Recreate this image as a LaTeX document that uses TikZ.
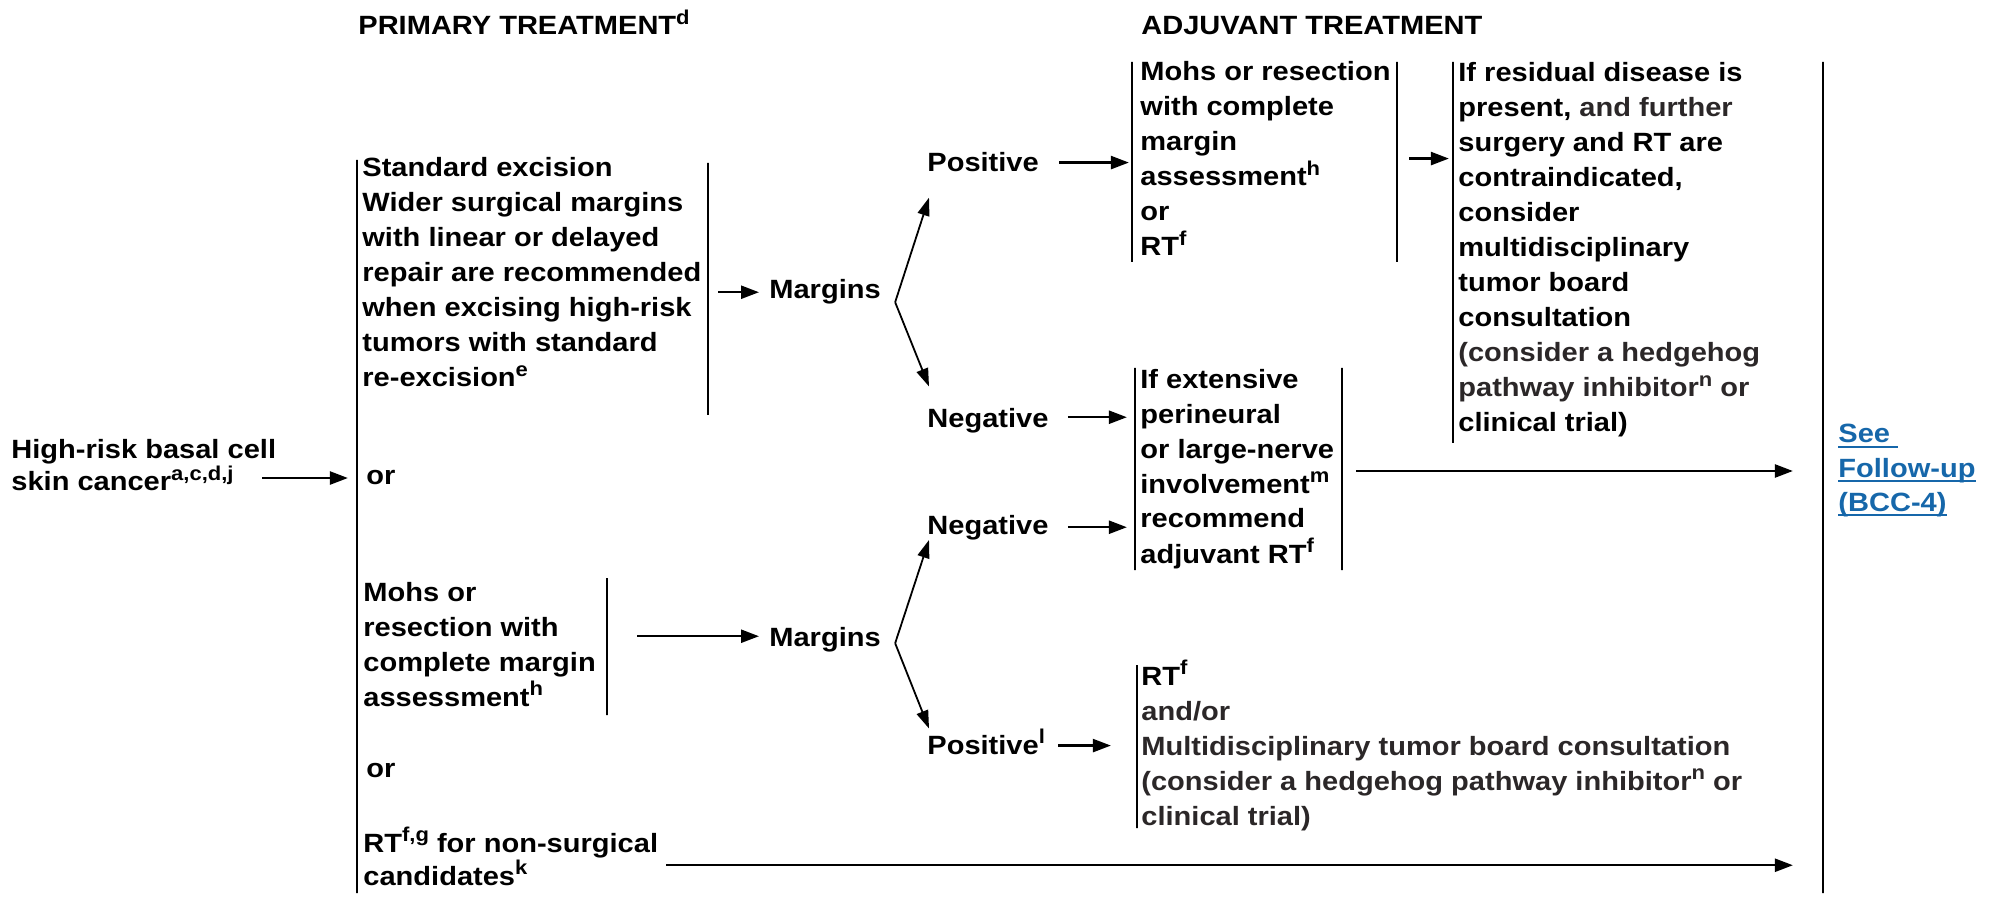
\documentclass[tikz,border=0pt]{standalone}
\usepackage{fontspec}
\setmainfont{Liberation Sans}[FakeStretch=1.1]
\usetikzlibrary{arrows.meta, positioning}
\definecolor{ink}{HTML}{2B2728}
\definecolor{linkblue}{HTML}{1667AA}
\newcommand{\supr}[1]{\raisebox{5.3pt}{\fontsize{10pt}{10pt}\selectfont #1}}
\newcommand{\lnk}[1]{\setbox0\hbox{#1}\rlap{\rule[-2.4pt]{\wd0}{1pt}}\box0}
\tikzstyle{txt} = [anchor=base west, inner sep=0pt, align=left, font=\fontsize{13.2pt}{17.5pt}\selectfont\bfseries]
\tikzstyle{vbar} = [draw, line width=1.1pt, inner sep=0pt, minimum width=0pt]
\tikzstyle{arrow} = [line width=1.2pt, -{Triangle[length=9pt,width=6.5pt]}]
\tikzstyle{fork} = [line width=0.9pt, -{Triangle[length=9pt,width=6pt]}]

\begin{document}
\begin{tikzpicture}[x=0.5pt, y=-0.5pt]
\useasboundingbox (0,0) rectangle (2001,897);

% Headings (multi-line nodes sit on the baseline of their last line)
\node[txt] (hdprim) at (358,35) {PRIMARY TREATMENT\supr{d}};
\node[txt] (hdadj) at (1141,35) {ADJUVANT TREATMENT};

% Primary treatment
\node[txt, font=\fontsize{13.2pt}{13pt}\selectfont\bfseries] (hr) at (11,491) {High-risk basal cell\\skin cancer\supr{a,c,d,j}};
\node[vbar, minimum height=366.5pt] (pbar) at (357,526.5) {};
\node[txt] (std) at (362,387) {Standard excision\\Wider surgical margins\\with linear or delayed\\repair are recommended\\when excising high-risk\\tumors with standard\\re-excision\supr{e}};
\node[vbar, minimum height=126pt] (stdbar) at (708,289) {};
\node[txt] (or1) at (366,485) {or};
\node[txt] (mohsp) at (363,706) {Mohs or\\resection with\\complete margin\\assessment\supr{h}};
\node[vbar, minimum height=68.5pt] (mohspbar) at (607,646.5) {};
\node[txt] (or2) at (366,777) {or};
\node[txt, font=\fontsize{13.2pt}{14pt}\selectfont\bfseries] (rtns) at (363,885) {RT\supr{f,g} for non-surgical\\candidates\supr{k}};

% Margins
\node[txt] (marg1) at (769,299) {Margins};
\node[txt] (pos1) at (927,172) {Positive};
\node[txt] (neg1) at (927,428) {Negative};
\node[txt] (marg2) at (769,646) {Margins};
\node[txt] (neg2) at (927,534) {Negative};
\node[txt] (pos2) at (927,754) {Positive\supr{l}};

% Adjuvant treatment
\node[txt] (mohsa) at (1140,256) {Mohs or resection\\with complete\\margin\\assessment\supr{h}\\or\\RT\supr{f}};
\node[vbar, minimum height=100pt] (mohsal) at (1132,162) {};
\node[vbar, minimum height=100pt] (mohsar) at (1397,162) {};
\node[txt] (resid) at (1458,432) {If residual disease is\\present, {\color{ink}and further}\\surgery and RT are\\contraindicated,\\consider\\multidisciplinary\\tumor board\\consultation\\{\color{ink}(consider a hedgehog}\\{\color{ink}pathway inhibitor\supr{n} or}\\clinical trial)};
\node[vbar, minimum height=190.5pt] (residbar) at (1453,252.5) {};
\node[txt] (ext) at (1140,563) {If extensive\\perineural\\or large-nerve\\involvement\supr{m}\\recommend\\adjuvant RT\supr{f}};
\node[vbar, minimum height=101pt] (extl) at (1135,469) {};
\node[vbar, minimum height=101pt] (extr) at (1342,469) {};
\node[txt] (rtb) at (1141,825) {RT\supr{f}\\{\color{ink}and/or}\\{\color{ink}Multidisciplinary tumor board consultation}\\{\color{ink}(consider a hedgehog pathway inhibitor\supr{n} or}\\{\color{ink}clinical trial)}};
\node[vbar, minimum height=81.5pt] (rtbbar) at (1137,746.5) {};

% Follow-up
\node[vbar, minimum height=415.5pt] (bigbar) at (1823,477.5) {};
\node[txt, font=\fontsize{13.2pt}{17pt}\selectfont\bfseries, text=linkblue] (seefu) at (1838,511) {\lnk{See\ }\\\lnk{Follow-up}\\\lnk{(BCC-4)}};

% Arrows
\draw[arrow] ([xshift=-7pt]hr.east |- or1) -- ([xshift=-4pt]pbar.west |- or1);
\draw[arrow] ([xshift=4.5pt]stdbar.east |- marg1) -- ([xshift=-5pt]marg1.west);
\coordinate (fork1) at ([xshift=7pt,yshift=-5pt]marg1.east);
\draw[fork] (fork1) -- ([xshift=1pt,yshift=-12.5pt]pos1.south west);
\draw[fork] (fork1) -- ([xshift=1pt,yshift=11pt]neg1.north west);
\draw[arrow] ([xshift=10pt]pos1.east) -- ([xshift=-1pt]pos1.east -| mohsal.west);
\draw[arrow] ([xshift=5.5pt,yshift=2pt]mohsar.east |- pos1) -- ([xshift=-1.5pt,yshift=2pt]pos1 -| residbar.west);
\draw[arrow] ([xshift=9.5pt,yshift=2pt]neg1.east) -- ([xshift=-3.5pt,yshift=2pt]neg1.east -| extl.west);
\draw[arrow] ([xshift=9.5pt]neg2.east) -- ([xshift=-3.5pt]neg2.east -| extl.west);
\draw[arrow] ([xshift=6.5pt,yshift=-1pt]extr.east) -- ([xshift=-14.5pt,yshift=-1pt]extr.east -| bigbar.west);
\draw[arrow] ([xshift=14.5pt,yshift=1.5pt]mohspbar.east |- marg2) -- ([xshift=-5pt,yshift=1.5pt]marg2.west);
\coordinate (fork2) at ([xshift=7pt,yshift=-2pt]marg2.east);
\draw[fork] (fork2) -- ([xshift=1pt]neg2.south west);
\draw[fork] (fork2) -- ([xshift=1pt]pos2.north west);
\draw[arrow] ([xshift=6.5pt,yshift=-2pt]pos2.east) -- ([xshift=-12.5pt,yshift=-2pt]pos2.east -| rtbbar.west);
\draw[arrow] ([xshift=4pt,yshift=-4.5pt]rtns.east) -- ([xshift=-14.5pt,yshift=-4.5pt]rtns.east -| bigbar.west);

\end{tikzpicture}
\end{document}
